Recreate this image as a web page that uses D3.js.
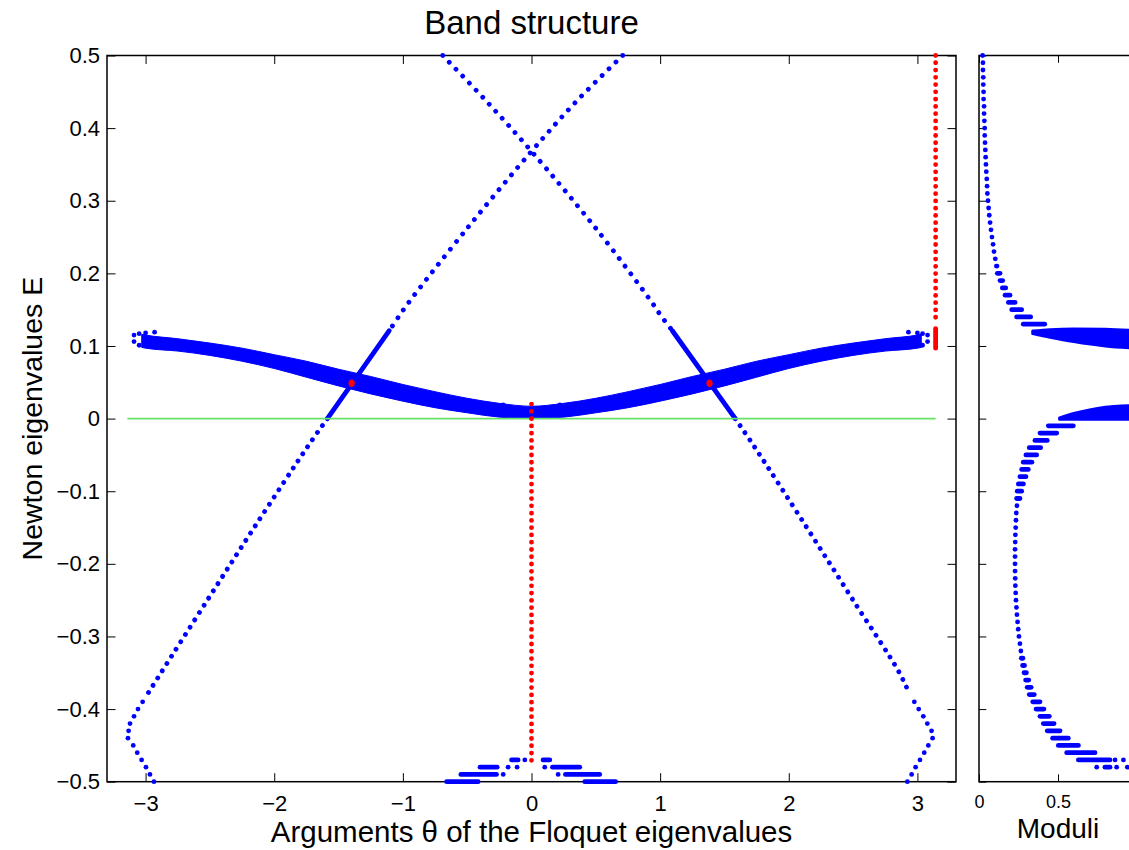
<!DOCTYPE html>
<html>
<head>
<meta charset="utf-8">
<script src="https://cdn.jsdelivr.net/npm/d3@7"></script>
<style>
body { margin: 0; background: #fff; }
svg { display: block; }
</style>
</head>
<body>
<script>
// Figure size
var width = 1129;
var height = 850;

// Tick values
var thetaTicks = [-3, -2, -1, 0, 1, 2, 3];
var energyTicks = [-0.5, -0.4, -0.3, -0.2, -0.1, 0, 0.1, 0.2, 0.3, 0.4, 0.5];
var moduliTicks = [0, 0.5, 1];
var moduliLabels = ['0', '0.5', ''];   // the "1" tick sits outside the picture

// The dense band of Floquet arguments: theta and its upper / lower edge in E
var bandTheta  = [-3.03, -3.0, -2.75, -2.5, -2.25, -2.0, -1.75, -1.5, -1.25, -1.0, -0.75, -0.5, -0.25, 0,
                  0.25, 0.5, 0.75, 1.0, 1.25, 1.5, 1.75, 2.0, 2.25, 2.5, 2.75, 3.0, 3.03];
var bandTop    = [0.116, 0.115, 0.110, 0.104, 0.097, 0.088, 0.079, 0.068, 0.058, 0.047, 0.037, 0.028, 0.021, 0.017,
                  0.021, 0.028, 0.037, 0.047, 0.058, 0.068, 0.079, 0.088, 0.097, 0.104, 0.110, 0.115, 0.116];
var bandBottom = [0.098, 0.097, 0.093, 0.087, 0.079, 0.069, 0.057, 0.045, 0.034, 0.024, 0.015, 0.008, 0.002, 0.000,
                  0.002, 0.008, 0.015, 0.024, 0.034, 0.045, 0.057, 0.069, 0.079, 0.087, 0.093, 0.097, 0.098];
// loose dots at the ragged ends of the band [theta, E]
var bandStray = [[-3.09, 0.115], [-3.09, 0.106], [-3.05, 0.117], [-3.05, 0.101], [-3.0, 0.118], [-2.93, 0.119],
                 [3.079, 0.115], [3.079, 0.106], [3.04, 0.117], [3.04, 0.101], [3.0, 0.118], [2.93, 0.119],
                 [-0.22, 0.019], [0.22, 0.019]];

// Branch running from upper right to lower left [theta, E]
var branchAUpper = [[0.709, 0.5], [0.35, 0.437], [0, 0.368], [-0.5, 0.262], [-0.95, 0.161], [-1.03, 0.141], [-1.106, 0.121]];
var branchADense = [[-1.106, 0.121], [-1.587, 0]];
var branchALower = [[-1.587, 0], [-1.742, -0.039], [-2.156, -0.15], [-2.52, -0.25], [-2.88, -0.35], [-2.987, -0.38]];
var branchATail  = [[-3.023, -0.39], [-3.059, -0.40], [-3.09, -0.41], [-3.121, -0.42], [-3.132, -0.43], [-3.137, -0.44],
                    [-3.096, -0.45], [-3.065, -0.46], [-3.031, -0.47], [-2.997, -0.48], [-2.966, -0.49], [-2.935, -0.50]];

// Branch running from upper left to lower right [theta, E]
var branchBUpper = [[-0.69, 0.5], [-0.35, 0.437], [0, 0.368], [0.5, 0.262], [0.932, 0.161], [1.009, 0.141], [1.095, 0.121]];
var branchBDense = [[1.095, 0.121], [1.584, 0]];
var branchBLower = [[1.584, 0], [1.734, -0.039], [2.14, -0.15], [2.50, -0.25], [2.86, -0.35], [2.94, -0.38]];
var branchBTail  = [[2.976, -0.39], [3.01, -0.40], [3.046, -0.41], [3.077, -0.42], [3.11, -0.43], [3.118, -0.44],
                    [3.085, -0.45], [3.053, -0.46], [3.02, -0.47], [2.986, -0.48], [2.955, -0.49], [2.922, -0.50]];

// Runs of dots near theta = 0 at the bottom [E, theta from, theta to]
var coreRows = [[-0.47, -0.155, -0.104], [-0.47, -0.052, -0.052], [-0.47, 0.09, 0.142],
                [-0.48, -0.40, -0.267], [-0.48, -0.182, -0.182], [-0.48, -0.112, -0.112], [-0.48, 0.103, 0.103], [-0.48, 0.163, 0.375],
                [-0.49, -0.549, -0.272], [-0.49, -0.22, -0.22], [-0.49, 0.207, 0.207], [-0.49, 0.264, 0.53],
                [-0.50, -0.66, -0.415], [-0.50, 0.414, 0.654]];

// Red markers
var redCrossings = [[-1.398, 0.0486], [1.384, 0.0486]];
var redZero = [[0, 0.02], [0, -0.48]];
var redPi = [[Math.PI, 0.5], [Math.PI, 0.13]];
var redPiDense = [[Math.PI, 0.124], [Math.PI, 0.097]];

// Zero energy reference line
var zeroLine = [[-Math.PI, 0], [Math.PI, 0]];

// Moduli panel: rows of dots [E, modulus from, modulus to]
var moduliRows = [
  [0.50, 0.023, 0.023], [0.49, 0.025, 0.025], [0.48, 0.025, 0.025], [0.47, 0.027, 0.027], [0.46, 0.027, 0.027],
  [0.45, 0.029, 0.029], [0.44, 0.029, 0.029], [0.43, 0.032, 0.032], [0.42, 0.032, 0.032], [0.41, 0.034, 0.034],
  [0.40, 0.036, 0.036], [0.39, 0.036, 0.036], [0.38, 0.038, 0.038], [0.37, 0.040, 0.040], [0.36, 0.042, 0.042],
  [0.35, 0.044, 0.044], [0.34, 0.046, 0.046], [0.33, 0.049, 0.049], [0.32, 0.051, 0.051], [0.31, 0.053, 0.053],
  [0.30, 0.057, 0.057], [0.29, 0.061, 0.061], [0.28, 0.065, 0.065], [0.27, 0.070, 0.070], [0.26, 0.076, 0.076],
  [0.25, 0.082, 0.082], [0.24, 0.089, 0.089], [0.23, 0.095, 0.095], [0.22, 0.103, 0.103], [0.21, 0.110, 0.114],
  [0.20, 0.116, 0.133], [0.19, 0.133, 0.150], [0.18, 0.148, 0.169], [0.17, 0.165, 0.196], [0.16, 0.186, 0.228],
  [0.15, 0.207, 0.270], [0.14, 0.238, 0.327], [0.13, 0.280, 0.416],
  [-0.01, 0.439, 0.597], [-0.02, 0.386, 0.492], [-0.03, 0.354, 0.432], [-0.04, 0.318, 0.390], [-0.05, 0.297, 0.365],
  [-0.06, 0.280, 0.335], [-0.07, 0.270, 0.312], [-0.08, 0.259, 0.297], [-0.09, 0.249, 0.281], [-0.10, 0.242, 0.270],
  [-0.11, 0.238, 0.259], [-0.12, 0.240, 0.240], [-0.13, 0.236, 0.236], [-0.14, 0.234, 0.234], [-0.15, 0.232, 0.232],
  [-0.16, 0.230, 0.230], [-0.17, 0.229, 0.229], [-0.18, 0.228, 0.228], [-0.19, 0.228, 0.228], [-0.20, 0.228, 0.228],
  [-0.21, 0.228, 0.228], [-0.22, 0.229, 0.229], [-0.23, 0.230, 0.230], [-0.24, 0.232, 0.232], [-0.25, 0.234, 0.234],
  [-0.26, 0.237, 0.237], [-0.27, 0.240, 0.240], [-0.28, 0.244, 0.244], [-0.29, 0.248, 0.248], [-0.30, 0.253, 0.253],
  [-0.31, 0.259, 0.259], [-0.32, 0.265, 0.265], [-0.33, 0.268, 0.278], [-0.34, 0.276, 0.288], [-0.35, 0.285, 0.300],
  [-0.36, 0.295, 0.315], [-0.37, 0.305, 0.330], [-0.38, 0.318, 0.350], [-0.39, 0.340, 0.386], [-0.40, 0.361, 0.411],
  [-0.41, 0.386, 0.445], [-0.42, 0.407, 0.475], [-0.43, 0.432, 0.513], [-0.44, 0.466, 0.565], [-0.45, 0.502, 0.629],
  [-0.46, 0.555, 0.734], [-0.47, 0.629, 0.829], [-0.47, 0.861, 0.861], [-0.47, 0.914, 0.914],
  [-0.48, 0.745, 0.745], [-0.48, 0.797, 0.829], [-0.48, 0.871, 0.871], [-0.48, 0.939, 0.939]
];
// Moduli panel: the two dense wedges (modulus, upper and lower edge in E)
var wedgeHighM      = [0.34, 0.45, 0.6, 0.8, 1.0];
var wedgeHighTop    = [0.1205, 0.1225, 0.1235, 0.123, 0.121];
var wedgeHighBottom = [0.117, 0.112, 0.106, 0.100, 0.097];
var wedgeLowM       = [0.51, 0.6, 0.7, 0.8, 0.9, 1.0];
var wedgeLowTop     = [0.001, 0.007, 0.012, 0.0155, 0.0175, 0.018];
var wedgeLowBottom  = [-0.001, -0.001, -0.001, -0.001, -0.001, -0.001];

var blue = '#0000ff';
var red = '#ff0000';
var green = '#66e266';
var dotSize = 4.8;
var fontFamily = '"Liberation Sans", Arial, Helvetica, sans-serif';

// Axes rectangles
var mainBox = {left: 107, right: 956, top: 55.5, bottom: 781.7};
var modBox = {left: 979, right: 1137};

var x = d3.scaleLinear().domain([-3.3, 3.3]).range([mainBox.left, mainBox.right]);
var y = d3.scaleLinear().domain([-0.5, 0.5]).range([mainBox.bottom, mainBox.top]);
var xm = d3.scaleLinear().domain([0, 1]).range([modBox.left, modBox.right]);

function fmt(d) { return d < 0 ? '\u2212' + Math.abs(d) : String(d); }

var svg = d3.select('body').append('svg')
  .attr('width', width)
  .attr('height', height);

function styleAxis(g, size) {
  g.attr('font-size', size).attr('font-family', fontFamily);
  g.select('.domain').remove();
  g.selectAll('.tick line').attr('stroke', '#000').attr('stroke-width', 1);
  g.selectAll('.tick text').attr('fill', '#000');
}

// ---- main axes ----
svg.append('g').attr('transform', 'translate(0,' + mainBox.bottom + ')')
  .call(d3.axisBottom(x).tickValues(thetaTicks).tickSize(-8.5).tickSizeOuter(0).tickPadding(13.2).tickFormat(fmt))
  .call(styleAxis, 22);
svg.append('g').attr('transform', 'translate(0,' + mainBox.top + ')')
  .call(d3.axisTop(x).tickValues(thetaTicks).tickSize(-8.5).tickSizeOuter(0).tickFormat(''))
  .call(styleAxis, 22);
svg.append('g').attr('transform', 'translate(' + mainBox.left + ',0)')
  .call(d3.axisLeft(y).tickValues(energyTicks).tickSize(-8.5).tickSizeOuter(0).tickPadding(7).tickFormat(fmt))
  .call(styleAxis, 22);
svg.append('g').attr('transform', 'translate(' + mainBox.right + ',0)')
  .call(d3.axisRight(y).tickValues(energyTicks).tickSize(-8.5).tickSizeOuter(0).tickFormat(''))
  .call(styleAxis, 22);
svg.append('rect')
  .attr('x', mainBox.left).attr('y', mainBox.top)
  .attr('width', mainBox.right - mainBox.left).attr('height', mainBox.bottom - mainBox.top)
  .attr('fill', 'none').attr('stroke', '#000').attr('stroke-width', 1.5);

// ---- moduli axes ----
svg.append('g').attr('transform', 'translate(0,' + mainBox.bottom + ')')
  .call(d3.axisBottom(xm).tickValues(moduliTicks).tickSize(-7.3).tickSizeOuter(0).tickPadding(14)
    .tickFormat(function(d, i) { return moduliLabels[i]; }))
  .call(styleAxis, 18);
svg.append('g').attr('transform', 'translate(0,' + mainBox.top + ')')
  .call(d3.axisTop(xm).tickValues(moduliTicks).tickSize(-7.3).tickSizeOuter(0).tickFormat(''))
  .call(styleAxis, 18);
svg.append('g').attr('transform', 'translate(' + modBox.left + ',0)')
  .call(d3.axisLeft(y).tickValues(energyTicks).tickSize(-7.3).tickSizeOuter(0).tickFormat(''))
  .call(styleAxis, 18);
svg.append('rect')
  .attr('x', modBox.left).attr('y', mainBox.top)
  .attr('width', modBox.right - modBox.left).attr('height', mainBox.bottom - mainBox.top)
  .attr('fill', 'none').attr('stroke', '#000').attr('stroke-width', 1.5);

// ---- main data ----
var line = d3.line()
  .x(function(d) { return x(d[0]); })
  .y(function(d) { return y(d[1]); });
var smooth = d3.line()
  .x(function(d) { return x(d[0]); })
  .y(function(d) { return y(d[1]); })
  .curve(d3.curveCatmullRom);

var band = bandTheta.map(function(t, i) { return [t, bandBottom[i], bandTop[i]]; });
svg.append('path')
  .datum(band)
  .attr('d', d3.area()
    .x(function(d) { return x(d[0]); })
    .y0(function(d) { return y(d[1]); })
    .y1(function(d) { return y(d[2]); })
    .curve(d3.curveMonotoneX))
  .attr('fill', blue)
  .attr('stroke', blue)
  .attr('stroke-width', 1);

function dots(g, data, sx, color, r) {
  g.selectAll(null).data(data).enter().append('circle')
    .attr('cx', function(d) { return sx(d[0]); })
    .attr('cy', function(d) { return y(d[1]); })
    .attr('r', r)
    .attr('fill', color);
}

function dotted(data, color, gap, curve) {
  svg.append('path')
    .datum(data)
    .attr('d', curve ? smooth : line)
    .attr('fill', 'none')
    .attr('stroke', color)
    .attr('stroke-width', dotSize)
    .attr('stroke-linecap', 'round')
    .attr('stroke-dasharray', '0.01 ' + gap);
}

function solid(data, color) {
  svg.append('path')
    .datum(data)
    .attr('d', line)
    .attr('fill', 'none')
    .attr('stroke', color)
    .attr('stroke-width', dotSize)
    .attr('stroke-linecap', 'round');
}

// rows of dots: [E, from, to]
function rows(g, data, sx, color) {
  g.selectAll(null).data(data).enter().append('path')
    .attr('d', function(d) {
      var a = sx(d[1]), b = sx(d[2]);
      return 'M' + a + ',' + y(d[0]) + 'H' + Math.max(b, a + 0.01);
    })
    .attr('fill', 'none')
    .attr('stroke', color)
    .attr('stroke-width', dotSize)
    .attr('stroke-linecap', 'round');
}

var mainG = svg.append('g');
dots(mainG, bandStray, x, blue, dotSize / 2);

dotted(branchAUpper, blue, 9.6, true);
solid(branchADense, blue);
dotted(branchALower, blue, 8.6, true);
dots(mainG, branchATail, x, blue, dotSize / 2);

dotted(branchBUpper, blue, 9.6, true);
solid(branchBDense, blue);
dotted(branchBLower, blue, 8.6, true);
var tailG = svg.append('g');
dots(tailG, branchBTail, x, blue, dotSize / 2);

var coreG = svg.append('g');
rows(coreG, coreRows, x, blue);

// zero energy line
svg.append('path')
  .datum(zeroLine)
  .attr('d', line)
  .attr('stroke', green)
  .attr('stroke-width', 1.6)
  .attr('fill', 'none');

// red markers
dotted(redZero, red, 7.26, false);
dotted(redPi, red, 7.26, false);
solid(redPiDense, red);
var redG = svg.append('g');
redG.selectAll(null).data(redCrossings).enter().append('ellipse')
  .attr('cx', function(d) { return x(d[0]); })
  .attr('cy', function(d) { return y(d[1]); })
  .attr('rx', 3.1)
  .attr('ry', 3.7)
  .attr('fill', red);

// ---- moduli data ----
var modG = svg.append('g');
function wedge(ms, tops, bottoms) {
  var pts = ms.map(function(m, i) { return [m, bottoms[i], tops[i]]; });
  modG.append('path')
    .datum(pts)
    .attr('d', d3.area()
      .x(function(d) { return xm(d[0]); })
      .y0(function(d) { return y(d[1]); })
      .y1(function(d) { return y(d[2]); })
      .curve(d3.curveMonotoneX))
    .attr('fill', blue)
    .attr('stroke', blue)
    .attr('stroke-width', 3)
    .attr('stroke-linejoin', 'round');
}
wedge(wedgeHighM, wedgeHighTop, wedgeHighBottom);
wedge(wedgeLowM, wedgeLowTop, wedgeLowBottom);
rows(modG, moduliRows, xm, blue);

// ---- texts ----
svg.append('text')
  .attr('x', 531.5).attr('y', 33.5)
  .attr('text-anchor', 'middle')
  .attr('font-family', fontFamily).attr('font-size', 33)
  .text('Band structure');

svg.append('text')
  .attr('x', 531.5).attr('y', 842.3)
  .attr('text-anchor', 'middle')
  .attr('font-family', fontFamily).attr('font-size', 29.5)
  .text('Arguments \u03b8 of the Floquet eigenvalues');

svg.append('text')
  .attr('transform', 'translate(42,' + ((mainBox.top + mainBox.bottom) / 2) + ') rotate(-90)')
  .attr('text-anchor', 'middle')
  .attr('font-family', fontFamily).attr('font-size', 28.5)
  .text('Newton eigenvalues E');

svg.append('text')
  .attr('x', 1058).attr('y', 838)
  .attr('text-anchor', 'middle')
  .attr('font-family', fontFamily).attr('font-size', 28)
  .text('Moduli');
</script>
</body>
</html>
